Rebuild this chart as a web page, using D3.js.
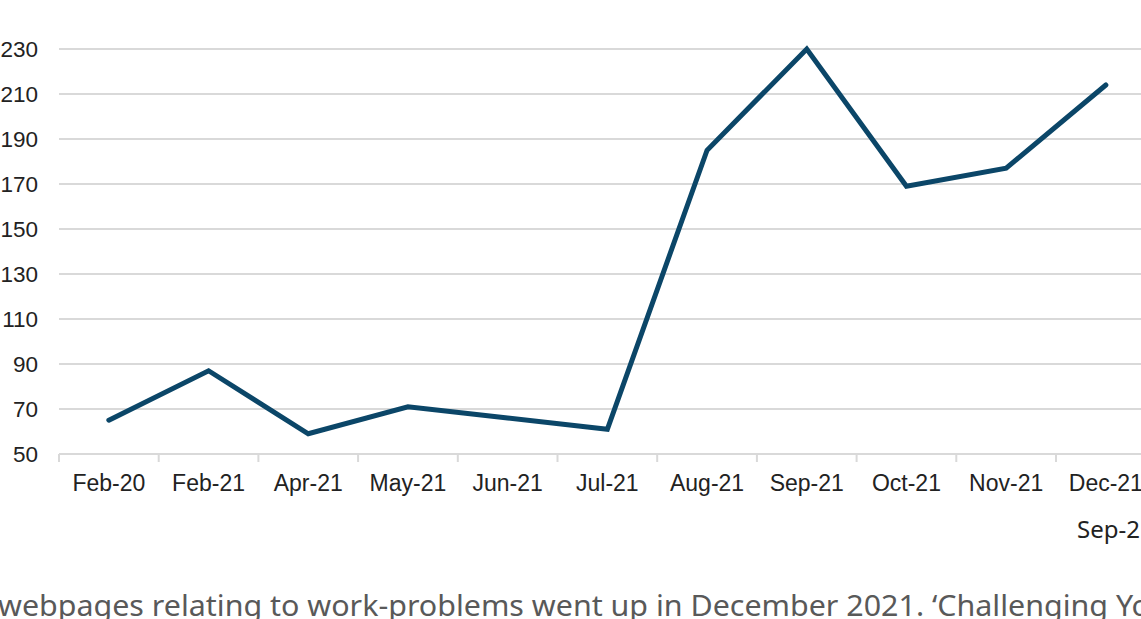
<!DOCTYPE html>
<html>
<head>
<meta charset="utf-8">
<script src="https://cdn.jsdelivr.net/npm/d3@7"></script>
<style>
  html, body { margin: 0; padding: 0; background: #fff; overflow: hidden; }
  svg { display: block; }
</style>
</head>
<body>
<svg id="chart" width="1141" height="619"></svg>
<script>
// Monthly visits to work-problem pages
const categories = ["Feb-20", "Feb-21", "Apr-21", "May-21", "Jun-21", "Jul-21",
                    "Aug-21", "Sep-21", "Oct-21", "Nov-21", "Dec-21"];
const visits = [65, 87, 59, 71, 66, 61, 185, 230, 169, 177, 214];
const yTicks = [50, 70, 90, 110, 130, 150, 170, 190, 210, 230];
const secondRowLabel = "Sep-2";
const caption = "webpages relating to work-problems went up in December 2021. \u2018Challenging Yo";

const svg = d3.select("#chart");
const W = 1141, H = 619;

const x = d3.scaleBand()
  .domain(categories)
  .range([59, 59 + 99.7 * categories.length]);

const y = d3.scaleLinear()
  .domain([50, 230])
  .range([454, 49]);

// horizontal gridlines
svg.append("g")
  .selectAll("line")
  .data(yTicks.filter(d => d !== 50))
  .join("line")
  .attr("x1", 59).attr("x2", W + 20)
  .attr("y1", d => y(d)).attr("y2", d => y(d))
  .attr("stroke", "#d9d9d9")
  .attr("stroke-width", 2);

// y axis labels
svg.append("g")
  .selectAll("text")
  .data(yTicks)
  .join("text")
  .attr("x", 38)
  .attr("y", d => y(d))
  .attr("dy", "0.35em")
  .attr("text-anchor", "end")
  .attr("font-family", "Liberation Sans, Arial, sans-serif")
  .attr("font-size", 22.5)
  .attr("fill", "#222")
  .text(d => d);

// x axis
const xAxis = d3.axisBottom(x).tickSize(8).tickSizeOuter(0);
const gx = svg.append("g")
  .attr("transform", `translate(0,${y(50)})`)
  .call(xAxis);
gx.select(".domain").attr("stroke", "#d9d9d9").attr("stroke-width", 2)
  .attr("d", `M59,0H${W + 20}`);
gx.selectAll(".tick line").remove();
gx.selectAll(".tick text")
  .attr("y", 29)
  .attr("dy", "0.35em")
  .attr("font-family", "Liberation Sans, Arial, sans-serif")
  .attr("font-size", 23)
  .attr("fill", "#222");

// category boundary ticks
const boundaries = categories.map((c, i) => x(c)).concat([x(categories[categories.length - 1]) + x.bandwidth()]);
svg.append("g")
  .selectAll("line")
  .data(boundaries)
  .join("line")
  .attr("x1", d => d).attr("x2", d => d)
  .attr("y1", y(50)).attr("y2", y(50) + 8)
  .attr("stroke", "#d9d9d9")
  .attr("stroke-width", 2);

// series line
const line = d3.line()
  .x((d, i) => x(categories[i]) + x.bandwidth() / 2)
  .y(d => y(d));

svg.append("path")
  .datum(visits)
  .attr("d", line)
  .attr("fill", "none")
  .attr("stroke", "#0b4668")
  .attr("stroke-width", 5)
  .attr("stroke-linejoin", "miter")
  .attr("stroke-linecap", "round");

// second-row label
svg.append("text")
  .attr("x", 1077)
  .attr("y", 538)
  .attr("font-family", "Noto Sans, sans-serif")
  .attr("font-size", 24)
  .attr("fill", "#222")
  .text(secondRowLabel);

// caption
svg.append("text")
  .attr("x", -2)
  .attr("y", 616)
  .attr("font-family", "Noto Sans, sans-serif")
  .attr("font-size", 29)
  .attr("fill", "#595959")
  .attr("textLength", 1152)
  .attr("lengthAdjust", "spacingAndGlyphs")
  .text(caption);
</script>
</body>
</html>
